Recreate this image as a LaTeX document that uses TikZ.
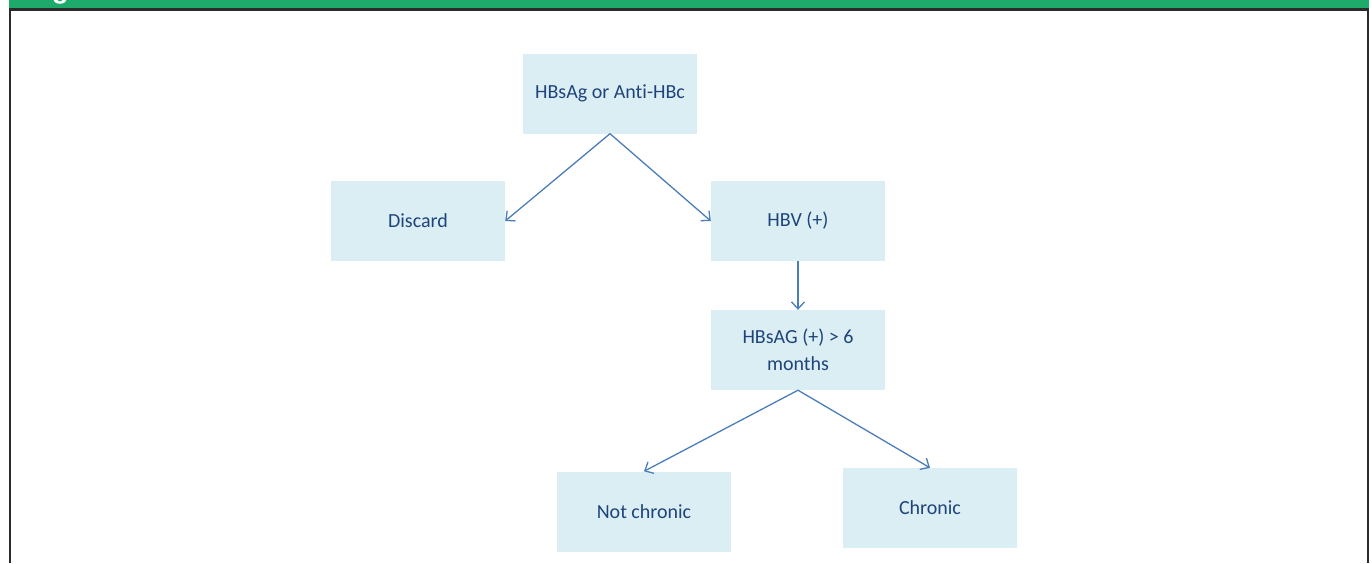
\documentclass[tikz,border=0pt]{standalone}
\usepackage{fontspec}
\setmainfont{Carlito}[Ligatures=NoCommon]
\newfontfamily\titlefont{Liberation Sans}
\usetikzlibrary{arrows.meta}
\definecolor{barGreen}{HTML}{1EAA6A}
\definecolor{frameGray}{HTML}{2B2B2B}
\definecolor{boxBlue}{HTML}{DBEEF4}
\definecolor{txtBlue}{HTML}{1F447A}
\definecolor{arrBlue}{HTML}{4A7EBB}
\tikzset{
  flowbox/.style={rectangle, fill=boxBlue, draw=none, minimum width=174pt, minimum height=80pt,
    inner sep=2pt, align=center, text=txtBlue, font=\fontsize{20}{27}\selectfont},
  flowarrow/.style={draw=arrBlue, line width=1.3pt, -{Straight Barb[length=7pt,width=13pt,line width=1.3pt]}}
}
\begin{document}
\begin{tikzpicture}[x=1pt,y=-1pt]
\useasboundingbox (0,0) rectangle (1372,563);
\fill[white] (0,0) rectangle (1372,563);
% title bar (cropped)
\fill[barGreen] (9,0) rectangle (1369,9);
\begin{scope}
  \clip (9,0) rectangle (1369,8.5);
  \node[anchor=base west, inner sep=0pt, text=white, font=\titlefont\bfseries\fontsize{27}{30}\selectfont] (title) at (28,-1.5) {Figure 1};
\end{scope}
% frame
\draw[frameGray, line width=2.5pt] (10,563) -- (10,9.5) -- (1368,9.5) -- (1368,563);
% nodes
\node[flowbox] (top) at (610,93.5) {HBsAg or Anti-HBc};
\node[flowbox] (discard) at (418,221) {Discard};
\node[flowbox] (hbv) at (798,221) {HBV (+)};
\node[flowbox] (six) at (798,350) {HBsAG (+) {\textgreater} 6\\months};
\node[flowbox] (notchr) at (644,511.5) {Not chronic};
\node[flowbox] (chr) at (930,508) {Chronic};
% connectors
\draw[flowarrow] (top.south) -- (discard.east);
\draw[flowarrow] (top.south) -- (hbv.west);
\draw[flowarrow] (hbv.south) -- (six.north);
\draw[flowarrow] (six.south) -- (notchr.north);
\draw[flowarrow] (six.south) -- (chr.north);
\end{tikzpicture}
\end{document}
